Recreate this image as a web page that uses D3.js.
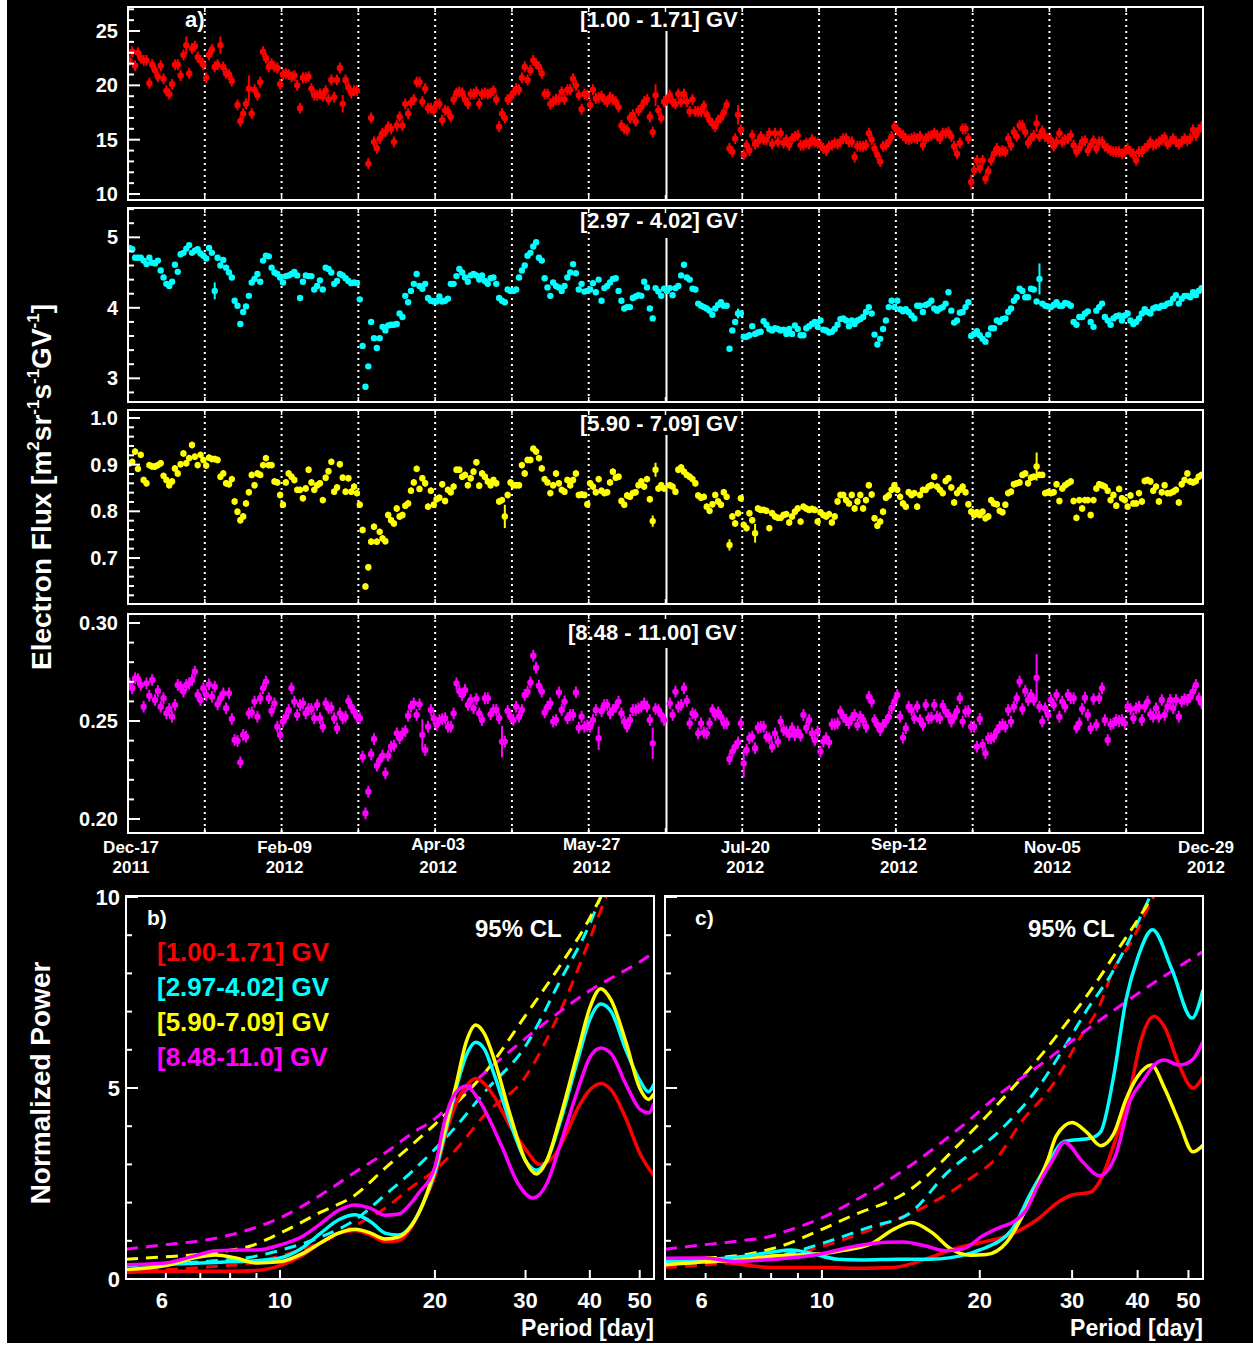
<!DOCTYPE html>
<html><head><meta charset="utf-8">
<script src="https://cdn.jsdelivr.net/npm/d3@7"></script>
<style>body{margin:0;background:#fff;}svg{display:block;}</style>
</head><body><svg id="chart" width="1253" height="1347"></svg>
<script>
// ---------------- DATA ----------------
const startDate = "2011-12-17";
const totalDays = 378;
const rotationDays = 27;
const dateLabels = ["Dec-17","Feb-09","Apr-03","May-27","Jul-20","Sep-12","Nov-05","Dec-29"];
const yearLabels = ["2011","2012","2012","2012","2012","2012","2012","2012"];
const rigidityBins = ["[1.00 - 1.71] GV","[2.97 - 4.02] GV","[5.90 - 7.09] GV","[8.48 - 11.00] GV"];
const legendLabels = ["[1.00-1.71] GV","[2.97-4.02] GV","[5.90-7.09] GV","[8.48-11.0] GV"];

// daily flux (index = day since Dec-17-2011), null = no data
const fluxLow = [
22.3,23.1,21.8,23.0,22.5,22.3,22.3,20.2,21.9,21.4, 20.8,21.8,20.6,19.5,19.2,20.1,21.9,21.9,20.9,22.8,
23.7,21.1,23.4,23.6,22.6,22.3,21.9,20.7,22.8,23.3, 21.7,21.9,23.7,21.7,21.1,21.0,20.4,null,18.2,16.7,
17.4,18.3,19.7,17.4,19.6,19.1,20.3,23.1,22.5,21.7, 22.0,21.7,21.6,20.1,21.0,21.1,21.0,20.8,20.9,20.0,
17.9,20.7,20.7,20.8,19.7,19.1,19.1,19.2,19.0,19.5, 18.7,20.5,18.9,20.5,21.6,18.3,20.5,19.8,19.3,19.5,
19.5,null,null,null,12.8,17.0,14.8,14.2,15.1,15.6, 15.7,16.2,16.0,14.8,16.3,17.1,16.3,18.3,17.4,18.4,
18.7,20.3,20.3,18.5,19.7,17.9,17.9,17.7,18.3,18.3, 16.8,17.7,17.6,17.1,18.7,19.3,19.4,19.3,18.7,18.3,
19.2,19.2,19.4,18.3,19.2,19.3,19.2,19.3,19.5,18.7, 16.2,17.4,17.0,18.7,18.9,19.3,19.7,19.6,20.7,21.7,
20.5,21.4,22.3,22.0,21.7,21.1,19.2,19.2,18.3,18.5, 18.7,18.7,19.4,18.7,19.6,19.6,20.6,20.0,19.1,17.8,
19.2,19.1,18.2,19.6,18.8,18.9,19.0,18.7,18.5,18.9, 18.7,18.5,18.0,16.3,16.0,15.9,17.0,17.3,16.7,17.7,
18.0,18.5,18.7,17.1,15.7,19.1,17.7,17.0,18.5,18.6, 19.1,18.5,18.3,19.2,18.5,19.2,18.5,17.6,18.7,17.6,
17.6,17.6,18.1,17.3,16.8,16.5,16.2,16.8,17.0,17.5, 18.2,14.2,13.9,15.1,17.3,15.9,13.6,14.5,14.0,15.4,
14.6,14.8,15.3,15.0,15.0,15.6,14.6,15.6,14.8,15.6, 14.7,15.0,14.5,15.1,15.3,15.4,14.5,14.5,14.7,14.6,
15.0,14.8,14.7,14.5,14.2,14.0,14.4,14.5,14.7,14.6, 14.8,15.1,15.1,14.8,14.8,13.4,14.4,14.4,14.4,14.5,
15.6,15.0,14.2,13.6,13.0,14.4,14.5,14.8,15.3,16.2, 15.9,15.6,15.4,15.1,15.0,15.1,15.2,15.1,15.3,14.5,
15.1,15.3,15.4,15.6,15.4,15.1,15.6,15.6,15.7,15.3, 14.4,13.7,14.7,16.0,16.0,15.1,11.1,12.2,13.1,12.4,
13.1,11.4,12.1,13.1,13.7,14.2,13.9,14.0,13.9,15.1, 14.5,15.7,15.3,16.3,16.3,15.7,14.7,15.1,15.4,16.5,
15.3,15.8,15.3,15.1,15.0,14.4,14.8,15.6,14.8,15.0, 15.1,15.4,14.5,13.9,14.2,14.8,14.9,14.0,14.5,14.9,
14.2,14.8,14.8,14.4,14.2,14.0,13.9,13.9,13.9,13.7, 13.9,14.2,13.9,13.7,13.1,13.9,13.9,14.2,14.4,14.8,
14.5,14.6,14.8,15.0,15.2,14.6,14.8,15.1,14.8,14.6, 14.8,15.1,14.9,15.1,15.9,15.4,15.9,16.2];

const fluxMid = [
4.85,4.83,4.71,4.71,4.71,4.67,4.62,4.71,4.64,4.63, 4.67,4.53,4.43,4.34,4.31,4.37,4.61,4.51,4.76,4.78,
4.84,4.89,4.78,4.81,4.83,4.77,4.74,4.70,4.85,4.78, 4.24,4.71,4.60,4.68,4.57,4.50,4.43,4.10,4.03,3.77,
3.94,4.02,4.17,4.36,4.41,4.48,4.37,4.67,4.74,4.73, 4.57,4.50,4.48,4.43,4.36,4.45,4.46,4.48,4.51,4.46,
4.14,4.37,4.46,4.45,4.45,4.26,4.31,4.39,4.26,4.57, 4.55,4.50,4.34,4.38,4.48,4.46,4.42,4.38,4.35,4.36,
4.35,4.12,3.46,2.88,3.17,3.80,3.57,3.43,3.57,3.73, 3.68,3.75,3.76,3.76,3.77,3.92,3.87,4.17,4.08,4.24,
4.34,4.48,4.31,4.27,4.34,4.14,4.10,4.09,4.09,4.16, 4.09,4.10,4.13,4.34,4.34,4.45,4.55,4.50,4.43,4.37,
4.46,4.48,4.46,4.40,4.46,4.38,4.34,4.42,4.43,4.34, 4.14,4.10,4.08,4.26,4.24,4.24,4.26,4.43,4.53,4.60,
4.74,4.78,4.87,4.93,4.71,4.67,4.42,4.29,4.17,4.36, 4.31,4.29,4.24,4.31,4.43,4.50,4.62,4.49,4.26,4.34,
4.23,4.24,4.26,4.35,4.22,4.40,4.10,4.28,4.31,4.36, 4.41,4.42,4.24,4.10,3.99,4.01,4.01,4.14,4.16,4.18,
4.17,4.37,4.29,3.99,3.85,4.28,4.23,4.17,4.27,4.24, 4.28,4.18,4.28,4.31,4.46,4.61,4.43,4.40,4.27,4.26,
4.06,4.03,4.01,3.99,3.96,3.90,3.99,4.04,4.08,4.03, 4.03,3.42,3.68,3.80,3.92,3.92,3.59,3.59,3.61,3.74,
3.63,3.65,3.66,3.81,3.76,3.70,3.68,3.71,3.70,3.68, 3.69,3.63,3.70,3.63,3.75,3.70,3.61,3.61,3.71,3.74,
3.77,3.80,3.73,3.82,3.69,3.68,3.65,3.66,3.70,3.76, 3.84,3.85,3.82,3.74,3.82,3.77,3.82,3.84,3.87,3.94,
4.01,3.92,3.62,3.48,3.56,3.70,3.82,4.01,4.10,4.01, 4.10,3.98,3.95,3.98,3.94,3.89,3.85,4.03,4.03,3.94,
4.04,4.06,4.10,3.99,3.96,3.99,4.01,4.06,4.22,3.96, 3.79,3.82,3.93,3.94,4.01,4.08,3.60,3.63,3.67,3.61,
3.56,3.52,3.62,3.71,3.71,3.82,3.80,3.84,3.85,3.94, 3.99,4.10,4.15,4.27,4.24,4.15,4.15,4.27,4.26,4.09,
4.41,4.06,4.03,4.02,4.01,4.04,4.08,4.03,4.03,4.07, 4.06,4.03,3.80,3.76,3.87,3.87,3.92,3.95,3.80,3.73,
3.96,4.01,4.06,3.87,3.82,3.76,3.85,3.88,3.89,3.82, 3.89,3.92,3.82,3.77,3.80,3.85,3.92,3.98,3.94,3.92,
3.99,4.01,4.00,4.03,4.03,4.06,4.07,4.13,4.18,4.06, 4.13,4.17,4.17,4.15,4.22,4.18,4.24,4.28];

const fluxHigh = [
.903,.906,.928,.891,.921,.867,.860,.899,.896,.896, .899,.903,.876,.867,.856,.864,.892,.881,.901,.924,
.903,.914,.942,.917,.899,.921,.910,.898,.915,.912, .912,.910,.874,.881,.860,.858,.869,.821,.799,.781,
.789,.817,.841,.878,.856,.881,.878,.899,.914,.899, .899,.864,.862,.835,.814,.862,.881,.874,.867,.846,
.846,.828,.849,.889,.862,.846,.856,.860,.824,.872, .886,.906,.842,.851,.901,.872,.842,.871,.842,.853,
.839,.814,.760,.639,.680,.735,.767,.735,.756,.742, .736,.792,.781,.774,.806,.789,.792,.812,.817,.844,
.862,.891,.848,.871,.860,.810,.844,.814,.826,.829, .858,.822,.846,.841,.853,.889,.889,.874,.878,.856,
.871,.885,.905,.855,.881,.874,.864,.856,.867,.860, .821,.824,.789,.835,.862,.856,.856,.856,.899,.881,
.910,.910,.934,.928,.914,.892,.869,.862,.839,.856, .881,.860,.846,.842,.867,.856,.867,.881,.835,.836,
.835,.815,.860,.853,.841,.869,.844,.839,.841,.862, .885,.872,.874,.822,.814,.834,.831,.839,.841,.856,
.864,.853,.869,.826,.779,.889,.849,.856,.849,null, .856,.853,.842,.889,.894,.885,.878,.874,.869,.860,
.834,.829,.831,.810,.801,.815,.835,.821,.814,.841, .831,.728,.789,.774,.796,.828,.771,.764,.796,.781,
.753,.806,.803,.803,.801,.764,.796,.789,.786,.786, .792,.794,.776,.789,.799,.806,.778,.810,.806,.803,
.805,.803,.778,.798,.792,.789,.794,.776,.789,.821, .835,.835,.824,.817,.835,.806,.821,.835,.806,.824,
.856,.836,.785,.769,.778,.799,.829,.834,.846,.856, .846,.831,.817,.810,.841,.835,.839,.810,.835,.846,
.846,.853,.856,.874,.853,.846,.839,.865,.871,.851, .819,.839,.846,.853,.841,.815,.799,.792,.798,.792,
.799,.785,.789,.824,.817,.815,.801,.798,.814,.839, .842,.858,.860,.862,.878,.881,.860,.872,.874,.896,
.878,.878,.839,.841,.839,.841,.858,.822,.849,.856, .860,.864,.822,.786,.824,.806,.824,.824,.792,.824,
.849,.858,.856,.853,.844,.824,.835,.812,.848,.828, .824,.810,.834,.817,.817,.839,.821,.865,.867,.864,
.844,.853,.821,.841,.856,.839,.839,.842,.846,.819, .858,.867,.881,.864,.862,.865,.874,.878];

const fluxTop = [
.2692,.2667,.2718,.2714,.2684,.2573,.2692,.2629,.2709,.2607, .2653,.2573,.2616,.2539,.2561,.2522,.2582,.2684,.2675,.2650,
.2684,.2692,.2709,.2752,.2633,.2607,.2667,.2633,.2687,.2624, .2675,.2585,.2616,.2641,.2565,.2641,.2510,.2403,.2398,.2289,
.2429,.2420,.2539,.2544,.2599,.2522,.2616,.2667,.2701,.2616, .2551,.2590,.2471,.2429,.2497,.2522,.2556,.2667,.2599,.2531,
.2582,.2590,.2539,.2561,.2561,.2514,.2582,.2514,.2471,.2590, .2565,.2568,.2514,.2463,.2539,.2514,.2522,.2602,.2573,.2548,
.2522,.2514,.2318,.2029,.2139,.2330,.2408,.2272,.2301,.2323, .2233,.2323,.2369,.2374,.2437,.2412,.2437,.2449,.2527,.2573,
.2590,.2531,.2585,.2429,.2352,.2471,.2556,.2514,.2480,.2505, .2510,.2514,.2471,.2471,.2539,.2692,.2653,.2633,.2658,.2582,
.2607,.2565,.2612,.2539,.2505,.2616,.2616,.2534,.2556,.2556, .2514,.2395,.2395,.2551,.2522,.2505,.2573,.2522,.2556,.2633,
.2650,.2697,.2833,.2772,.2680,.2650,.2544,.2573,.2590,.2497, .2505,.2646,.2556,.2599,.2514,.2531,.2531,.2646,.2466,.2522,
.2471,.2476,.2471,.2505,.2556,.2412,.2551,.2582,.2582,.2539, .2556,.2573,.2599,.2539,.2497,.2471,.2505,.2556,.2556,.2565,
.2573,.2590,.2573,.2505,.2386,.2561,.2556,.2531,.2505,null, .2590,.2531,.2650,.2573,.2582,.2667,.2602,.2488,.2539,.2531,
.2437,.2488,.2442,.2437,.2488,.2556,.2531,.2544,.2522,.2488, .2488,.2306,.2344,.2369,.2391,.2488,.2284,.2352,.2412,.2420,
.2361,.2466,.2471,.2471,.2420,.2412,.2369,.2437,.2395,.2497, .2454,.2446,.2429,.2463,.2429,.2446,.2425,.2531,.2466,.2505,
.2437,.2403,.2446,.2344,.2395,.2412,.2391,.2483,.2483,.2488, .2548,.2522,.2505,.2488,.2514,.2531,.2480,.2522,.2505,.2471,
.2624,.2599,.2505,.2480,.2454,.2480,.2497,.2522,.2565,.2599, .2633,.2522,.2415,.2463,.2573,.2556,.2514,.2573,.2505,.2480,
.2582,.2514,.2517,.2582,.2522,.2514,.2578,.2548,.2531,.2497, .2522,.2551,.2616,.2497,.2548,.2551,.2471,.2471,.2369,.2510,
.2378,.2335,.2412,.2412,.2420,.2449,.2471,.2483,.2471,.2556, .2497,.2573,.2616,.2701,.2561,.2653,.2607,.2633,.2607,.2721,
.2573,.2497,.2565,.2531,.2607,.2582,.2633,.2522,.2599,.2573, .2633,.2616,.2616,.2466,.2488,.2561,.2619,.2531,.2463,.2612,
.2480,.2616,.2667,.2505,.2403,.2483,.2488,.2505,.2500,.2505, .2488,.2573,.2561,.2514,.2565,.2573,.2505,.2573,.2599,.2534,
.2522,.2565,.2522,.2607,.2531,.2573,.2607,.2565,.2607,.2522, .2599,.2612,.2607,.2624,.2650,.2684,.2616,.2590];

// typical error per bin, plus the few points with larger errors {day: err}
const errTypical = [0.5, 0.02, 0.007, 0.003];
const errLarge = [
  {20:0.8, 32:0.8, 42:1.2, 75:0.8, 185:1.0, 214:0.9, 296:0.7, 319:0.8},
  {30:0.12, 320:0.22, 214:0.07},
  {132:0.025, 184:0.012, 319:0.03, 220:0.02, 211:0.012, 185:0.015},
  {319:0.012, 184:0.008, 103:0.008, 131:0.008, 216:0.007, 165:0.006}
];

// y-axis labelled ticks of the four flux panels
const fluxTicks = [[10,15,20,25],[3,4,5],[0.7,0.8,0.9,1.0],[0.20,0.25,0.30]];
const fluxTickLabels = [["10","15","20","25"],["3","4","5"],["0.7","0.8","0.9","1.0"],["0.20","0.25","0.30"]];

// periodograms: [period (day), normalized power]
const powerTicks = [0,5,10];
const periodTicks = [6,7,8,9,10,20,30,40,50];
const periodLabels = [6,10,20,30,40,50];
const periodRange = [5.02, 53.3];

// panel b) solid
const pbLow = [[5.02,0.17],[6,0.2],[7,0.2],[8,0.2],[9,0.22],[10,0.35],[11,0.6],[12,0.95],[13,1.2],[14,1.27],[15,1.15],[16,0.98],[17,1.0],[18,1.35],[19,2.0],[20,2.7],[21,3.8],[22,4.6],[23,5.05],[24,5.25],[25,5.1],[26,4.8],[28,4.0],[30,3.4],[32,3.0],[34,3.2],[36,3.8],[38,4.5],[40,4.95],[42,5.12],[44,4.95],[47,4.2],[50,3.3],[53.3,2.7]];
const pbMid = [[5.02,0.37],[6,0.38],[7,0.42],[8,0.45],[9,0.48],[10,0.55],[11,0.8],[12,1.2],[13,1.55],[14,1.68],[15,1.5],[16,1.2],[17,1.15],[18,1.4],[19,2.0],[20,2.8],[21,3.9],[22,5.0],[23,5.85],[24,6.2],[25,6.0],[26,5.4],[28,4.1],[30,3.1],[31.5,2.85],[33,3.1],[35,4.1],[38,5.8],[40,6.8],[42,7.2],[44,7.0],[47,6.0],[50,5.2],[52,4.9],[53.3,5.1]];
const pbHigh = [[5.02,0.25],[6,0.35],[6.8,0.55],[7.5,0.63],[8.2,0.55],[9,0.42],[10,0.45],[11,0.65],[12,0.95],[13,1.2],[14,1.3],[15,1.2],[16,1.05],[17,1.1],[18,1.4],[19,2.0],[20,2.9],[21,4.0],[22,5.1],[23,6.2],[24,6.65],[25,6.4],[26,5.8],[28,4.3],[30,3.1],[31.5,2.75],[33,3.1],[35,4.2],[38,6.0],[40,7.1],[42,7.6],[44,7.3],[47,6.2],[50,5.0],[52,4.7],[53.3,4.85]];
const pbTop = [[5.02,0.37],[6,0.42],[6.8,0.6],[7.5,0.74],[8.5,0.76],[9,0.76],[10,0.89],[11,1.1],[12,1.45],[13,1.8],[14,1.94],[15,1.85],[16,1.67],[17,1.7],[18,2.0],[18.6,2.25],[20,2.94],[20.9,4.16],[21.9,4.86],[23,5.05],[24.3,4.7],[27,3.46],[29,2.5],[31,2.12],[33,2.5],[35,3.5],[38,5.0],[40,5.8],[42,6.05],[44,5.9],[47,5.1],[50,4.45],[52,4.35],[53.3,4.6]];
// panel b) 95% CL
const cbLow = [[5.02,0.2],[7,0.3],[9,0.45],[10,0.6],[12,0.95],[14,1.4],[16,1.85],[18,2.4],[20,2.85],[22,3.4],[25,4.3],[30,5.3],[35,7.0],[40,8.9],[43,10.0],[45,10.6]];
const cbMid = [[5.02,0.35],[7,0.45],[9,0.6],[10,0.75],[12,1.1],[14,1.55],[16,2.2],[18,2.8],[20,3.4],[22,4.0],[25,4.9],[30,6.1],[35,7.8],[40,9.3],[42,10.0],[45,10.8]];
const cbHigh = [[5.02,0.52],[6,0.58],[7,0.65],[8,0.75],[8.7,0.85],[10,1.2],[12,1.75],[14,2.2],[16,2.9],[18,3.5],[20,4.05],[22,4.6],[25,5.4],[30,6.9],[35,8.2],[40,9.45],[42,10.0],[45,10.8]];
const cbTop = [[5.02,0.78],[6,0.9],[7,1.0],[8,1.15],[8.5,1.25],[10,1.6],[12,2.2],[14,2.8],[16,3.3],[18,3.8],[20,4.2],[22,4.7],[25,5.4],[30,6.3],[35,7.0],[40,7.55],[45,7.95],[50,8.3],[53.3,8.55]];

// panel c) solid
const pcLow = [[5.02,0.37],[5.8,0.5],[6.5,0.45],[7,0.38],[8,0.3],[10,0.3],[12,0.28],[13.7,0.3],[15,0.42],[16,0.55],[18,0.8],[20,0.95],[22,1.08],[24,1.3],[26,1.6],[28,1.98],[30,2.2],[32.5,2.27],[34,2.6],[36,3.5],[38.8,5.0],[40.5,6.2],[43,6.88],[45,6.6],[48,5.6],[51,5.0],[53.3,5.3]];
const pcMid = [[5.02,0.46],[6,0.5],[7,0.58],[8,0.7],[8.75,0.76],[9.5,0.68],[10.7,0.52],[12,0.5],[14,0.52],[16,0.52],[17.6,0.56],[20,0.76],[23,1.28],[25,2.24],[27,3.03],[29,3.6],[32.6,3.69],[34,3.85],[36,5.3],[38,7.3],[40,8.4],[42.7,9.14],[46.5,8.1],[50.8,6.83],[53.3,7.57]];
const pcHigh = [[5.02,0.37],[6,0.45],[7,0.5],[8,0.6],[10,0.66],[11,0.75],[12.4,0.92],[13.7,1.3],[14.8,1.48],[16.2,1.22],[17.6,0.79],[19.2,0.62],[20.6,0.64],[22.5,0.96],[24.5,1.83],[27,3.14],[28,3.75],[30,4.1],[32,3.84],[34,3.49],[36,3.8],[38,4.7],[40,5.3],[42.5,5.6],[45,5.0],[48,4.1],[51,3.33],[53.3,3.5]];
const pcTop = [[5.02,0.54],[6,0.55],[6.8,0.46],[8,0.51],[10,0.66],[11.3,0.83],[13.3,0.96],[14.3,0.97],[15.7,0.87],[17.2,0.74],[18.6,0.79],[20.3,1.14],[21.9,1.36],[23.2,1.5],[24.5,1.8],[25.8,2.44],[27.6,3.14],[29,3.58],[31.5,3.05],[33.8,2.7],[36.3,3.23],[38.8,4.7],[41,5.2],[43,5.6],[45,5.73],[48,5.6],[50.8,5.73],[53.3,6.21]];
// panel c) 95% CL
const ccLow = [[5.02,0.3],[7,0.45],[8.5,0.6],[10,0.85],[13.3,1.46],[15.7,1.89],[19,2.59],[21.9,3.29],[23.8,4.04],[27.6,5.1],[30.9,6.26],[34.2,7.3],[35.7,8.0],[38.8,8.8],[42.9,10.0],[45,10.5]];
const ccMid = [[5.02,0.4],[7,0.5],[8.5,0.65],[10,0.93],[12.4,1.37],[14.7,1.72],[17.3,2.77],[21.9,3.9],[25.8,5.0],[28.8,6.0],[32,7.04],[35.7,8.0],[38.8,8.95],[42.2,10.0],[44,10.5]];
const ccHigh = [[5.02,0.5],[6,0.55],[7,0.62],[8.3,0.85],[10,1.3],[11.3,1.63],[14.7,2.33],[18.6,3.64],[23.2,5.03],[26.7,6.0],[29.9,6.87],[33.3,7.75],[36.3,8.53],[40,9.4],[43.5,10.2]];
const ccTop = [[5.02,0.78],[6,0.9],[7,1.0],[8,1.12],[8.5,1.24],[10,1.6],[11.3,1.98],[14.5,2.9],[18.6,4.03],[21.9,4.86],[25.8,5.56],[33.3,6.7],[42.9,7.75],[53.3,8.57]];

// ---------------- DRAWING ----------------
const COLORS = ["#ff0000","#00ffff","#ffff00","#ff00ff"];
const FONT = '"Liberation Sans", Arial, Helvetica, sans-serif';
const svg = d3.select("#chart");
svg.append("rect").attr("x",7).attr("y",0).attr("width",1246).attr("height",1343).attr("fill","#000");

function txt(g, x, y, s, size, fill, anchor){
  return g.append("text").attr("x",x).attr("y",y).text(s)
    .attr("font-size",size).attr("fill",fill||"#fff").attr("text-anchor",anchor||"start")
    .attr("font-weight","bold").attr("font-family",FONT);
}

const xT = d3.scaleLinear().domain([0,totalDays]).range([128,1203]);
const series = [fluxLow, fluxMid, fluxHigh, fluxTop];
const layout = [
  {top:7,   bottom:200, dom:[9.45,27.21],  minor:1,    lineTop:31,  titleX:580, titleY:27},
  {top:208, bottom:402, dom:[2.664,5.416], minor:0.2,  lineTop:238, titleX:580, titleY:228},
  {top:410, bottom:604, dom:[0.6014,1.0171],minor:0.02, lineTop:435, titleX:580, titleY:431},
  {top:614, bottom:833, dom:[0.19286,0.30459],minor:0.01,lineTop:648, titleX:568, titleY:640}
];

layout.forEach((L, p) => {
  const g = svg.append("g");
  const y = d3.scaleLinear().domain(L.dom).range([L.bottom, L.top]);
  const cid = "clip"+p;
  svg.append("clipPath").attr("id",cid).append("rect")
    .attr("x",128).attr("y",L.top).attr("width",1075).attr("height",L.bottom-L.top);
  for(let k=1;k*rotationDays<totalDays;k++){
    const xx = xT(k*rotationDays);
    if(k===7){
      g.append("line").attr("x1",xx+1).attr("x2",xx+1).attr("y1",L.lineTop).attr("y2",L.bottom)
        .attr("stroke","#fff").attr("stroke-width",2);
    } else {
      g.append("line").attr("x1",xx).attr("x2",xx).attr("y1",L.top).attr("y2",L.bottom)
        .attr("stroke","#fff").attr("stroke-width",2).attr("stroke-dasharray","2,4");
    }
    g.append("line").attr("x1",xx).attr("x2",xx).attr("y1",L.bottom).attr("y2",L.bottom-5).attr("stroke","#fff").attr("stroke-width",1.5);
    g.append("line").attr("x1",xx).attr("x2",xx).attr("y1",L.top).attr("y2",L.top+5).attr("stroke","#fff").attr("stroke-width",1.5);
  }
  const pts = series[p].map((v,i)=>({d:i, v:v, e:(errLarge[p][i]!==undefined?errLarge[p][i]:errTypical[p])})).filter(o=>o.v!==null);
  const dg = g.append("g").attr("clip-path","url(#"+cid+")");
  dg.selectAll("line.err").data(pts).enter().append("line")
    .attr("x1",o=>xT(o.d+0.5)).attr("x2",o=>xT(o.d+0.5))
    .attr("y1",o=>y(o.v-o.e)).attr("y2",o=>y(o.v+o.e))
    .attr("stroke",COLORS[p]).attr("stroke-width",2);
  dg.selectAll("circle").data(pts).enter().append("circle")
    .attr("cx",o=>xT(o.d+0.5)).attr("cy",o=>y(o.v)).attr("r",3.2).attr("fill",COLORS[p]);
  const k0 = Math.ceil(L.dom[0]/L.minor - 1e-6), k1 = Math.floor(L.dom[1]/L.minor + 1e-6);
  for(let k=k0;k<=k1;k++){
    const v = k*L.minor;
    const isMajor = fluxTicks[p].some(t=>Math.abs(t-v)<1e-6);
    g.append("line").attr("x1",128).attr("x2",128+(isMajor?12:6)).attr("y1",y(v)).attr("y2",y(v))
      .attr("stroke","#fff").attr("stroke-width",2);
  }
  fluxTicks[p].forEach((t,i)=>{ txt(g,118,y(t)+7,fluxTickLabels[p][i],20,"#fff","end"); });
  g.append("rect").attr("x",128).attr("y",L.top).attr("width",1075).attr("height",L.bottom-L.top)
    .attr("fill","none").attr("stroke","#fff").attr("stroke-width",2);
  txt(g, L.titleX, L.titleY, rigidityBins[p], 22);
});
txt(svg,185,27,"a)",22);

const dateShift = [0,0,-3,-3,0,-3,0,0];
dateLabels.forEach((s,i)=>{
  const xx = xT(i*54);
  txt(svg,xx+3,853+dateShift[i],s,17,"#fff","middle");
  txt(svg,xx+3,873,yearLabels[i],17,"#fff","middle");
});

const yt = svg.append("text").attr("transform","translate(51,487) rotate(-90)")
  .attr("text-anchor","middle").attr("fill","#fff").attr("font-weight","bold")
  .attr("font-family",FONT).attr("font-size",28);
const parts = [["Electron Flux [m",0],["2",1],["sr",0],["-1",1],["s",0],["-1",1],["GV",0],["-1",1],["]",0]];
let prevSup = 0;
parts.forEach(([s,sup])=>{
  const t = yt.append("tspan").text(s);
  if(sup){ t.attr("font-size",17).attr("dy",prevSup? 0 : -12); }
  else { t.attr("dy",prevSup? 12 : 0); }
  prevSup = sup;
});

// ---------- periodogram panels ----------
const yP = d3.scaleLinear().domain([0,10]).range([1279,897]);
const pPanels = [
  {x0:126, x1:654, solid:[pbLow,pbMid,pbHigh,pbTop], cl:[cbLow,cbMid,cbHigh,cbTop], tag:"b)", tagX:147, clX:475},
  {x0:665, x1:1203, solid:[pcLow,pcMid,pcHigh,pcTop], cl:[ccLow,ccMid,ccHigh,ccTop], tag:"c)", tagX:695, clX:1028}
];
pPanels.forEach((P, pi)=>{
  const g = svg.append("g");
  const xs = d3.scaleLog().domain(periodRange).range([P.x0,P.x1]);
  const cid = "pclip"+pi;
  svg.append("clipPath").attr("id",cid).append("rect")
    .attr("x",P.x0).attr("y",897).attr("width",P.x1-P.x0).attr("height",1279-897);
  const line = d3.line().x(d=>xs(d[0])).y(d=>yP(d[1])).curve(d3.curveMonotoneX);
  const lg = g.append("g").attr("clip-path","url(#"+cid+")");
  P.cl.forEach((arr,i)=>{
    lg.append("path").attr("d",line(arr)).attr("fill","none").attr("stroke",COLORS[i])
      .attr("stroke-width",3).attr("stroke-dasharray","12,8");
  });
  P.solid.forEach((arr,i)=>{
    lg.append("path").attr("d",line(arr)).attr("fill","none").attr("stroke",COLORS[i])
      .attr("stroke-width",3.5);
  });
  for(let v=0; v<=10; v++){
    const major = powerTicks.includes(v);
    g.append("line").attr("x1",P.x0).attr("x2",P.x0+(major?12:6)).attr("y1",yP(v)).attr("y2",yP(v))
      .attr("stroke","#fff").attr("stroke-width",2);
  }
  periodTicks.forEach(t=>{
    const major = t>=10;
    g.append("line").attr("x1",xs(t)).attr("x2",xs(t)).attr("y1",1279).attr("y2",1279-(major?9:6))
      .attr("stroke","#fff").attr("stroke-width",2);
  });
  periodLabels.forEach(t=>{ txt(g, xs(t)-(t===6?4:0), 1308, String(t), 22, "#fff","middle"); });
  g.append("rect").attr("x",P.x0).attr("y",896).attr("width",P.x1-P.x0).attr("height",383)
    .attr("fill","none").attr("stroke","#fff").attr("stroke-width",2);
  txt(g, P.x1, 1336, "Period [day]", 23, "#fff", "end");
  txt(g, P.tagX, 925, P.tag, 21);
  txt(g, P.clX, 937, "95% CL", 24);
  if(pi===0){
    powerTicks.forEach(t=>{ txt(g, 120, yP(t)+8, String(t), 22, "#fff", "end"); });
    legendLabels.forEach((s,i)=>{ txt(g, 157, 961+i*35, s, 26, COLORS[i]); });
  }
});
svg.append("text").attr("transform","translate(50,1083) rotate(-90)").attr("text-anchor","middle")
  .attr("fill","#fff").attr("font-weight","bold").attr("font-family",FONT).attr("font-size",28)
  .text("Normalized Power");
</script></body></html>
